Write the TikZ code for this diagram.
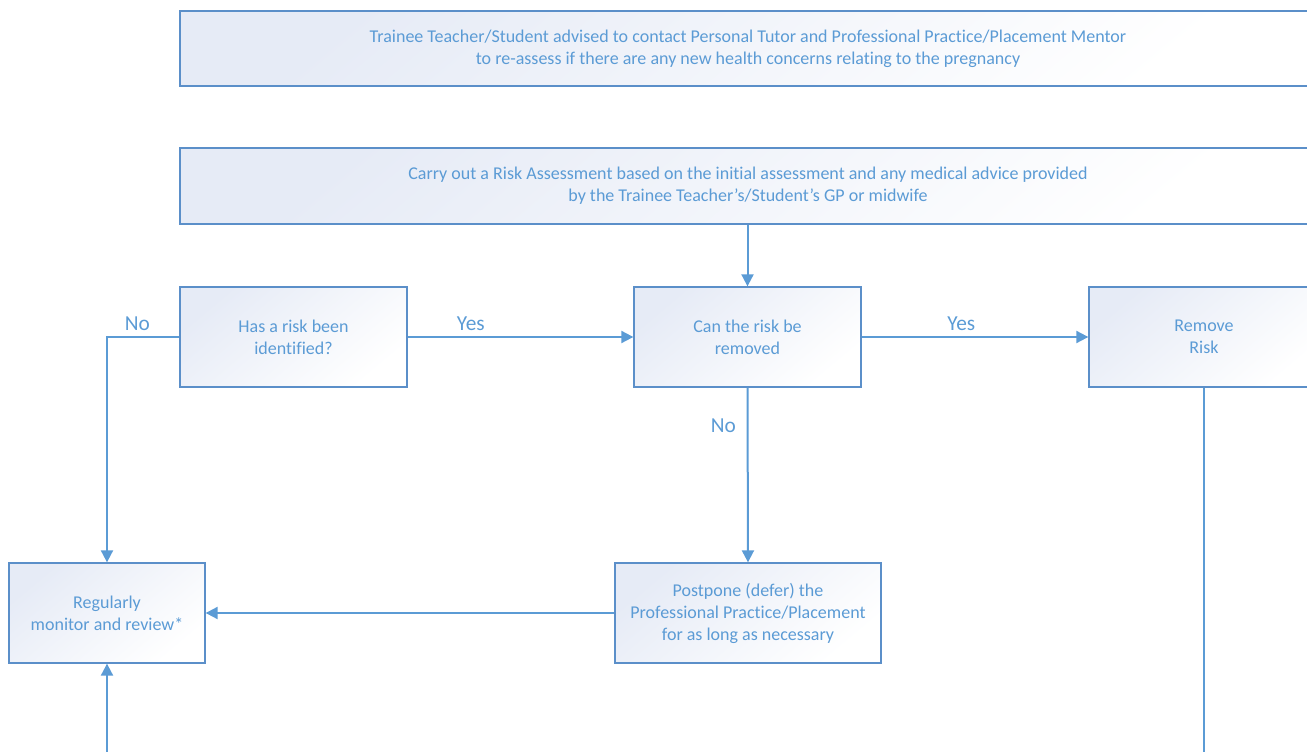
\documentclass[tikz,border=0pt]{standalone}
\usepackage{fontspec}
\setmainfont{Carlito}[Ligatures=CommonOff]
\usetikzlibrary{arrows.meta}
\definecolor{accent}{HTML}{5B9BD5}
\definecolor{boxline}{HTML}{5B8FC9}
\definecolor{shadeblue}{HTML}{E6EBF6}
\tikzset{
  flowbox/.style={draw=boxline, line width=1pt, top color=shadeblue, bottom color=white, shading angle=40,
    align=center, text=accent, inner sep=0pt,
    font=\fontsize{13.5}{16.5}\selectfont},
  conn/.style={draw=accent, line width=1.5pt, -{Triangle[length=9pt,width=9pt]}},
  plainconn/.style={draw=accent, line width=1.5pt},
  lbl/.style={text=accent, font=\fontsize{16}{19}\selectfont, inner sep=0pt}
}
\begin{document}
\begin{tikzpicture}[x=0.75pt,y=-0.75pt]
\useasboundingbox (0,0) rectangle (1307,752);
\clip (0,0) rectangle (1307,752);
\node[flowbox, minimum width=1136*0.75pt, minimum height=75*0.75pt] (top) at (748,48.5)
  {Trainee Teacher/Student advised to contact Personal Tutor and Professional Practice/Placement Mentor\\to re-assess if there are any new health concerns relating to the pregnancy};
\node[flowbox, minimum width=1136*0.75pt, minimum height=76*0.75pt] (ra) at (748,186)
  {Carry out a Risk Assessment based on the initial assessment and any medical advice provided\\by the Trainee Teacher's/Student's GP or midwife};
\node[flowbox, minimum width=227*0.75pt, minimum height=100*0.75pt] (has) at (293.5,337)
  {Has a risk been\\identified?};
\node[flowbox, minimum width=227*0.75pt, minimum height=100*0.75pt] (can) at (747.5,337)
  {Can the risk be\\removed};
\node[flowbox, minimum width=230*0.75pt, minimum height=100*0.75pt] (rem) at (1204,337)
  {Remove\\Risk};
\node[flowbox, minimum width=196*0.75pt, minimum height=100*0.75pt] (reg) at (107,613)
  {Regularly\\monitor and review*};
\node[flowbox, minimum width=266*0.75pt, minimum height=100*0.75pt] (post) at (748,613)
  {Postpone (defer) the\\Professional Practice/Placement\\for as long as necessary};
\coordinate (bl) at (107,760);
\coordinate (br) at (1204,760);
\draw[conn] (ra.south -| can.north) -- (can.north);
\draw[conn] (has.east) -- node[lbl, above=4pt, pos=0.28] {Yes} (can.west);
\draw[conn] (can.east) -- node[lbl, above=4pt, pos=0.44] {Yes} (rem.west);
\draw[conn] (has.west) -- node[lbl, above=4pt, pos=0.58] {No} (has.west -| reg.north) -- (reg.north);
\draw[conn] (can.south) -- node[lbl, left=8pt, pos=0.22] {No} (post.north);
\draw[conn] (post.west) -- (reg.east);
\draw[conn] (bl) -- (reg.south);
\draw[plainconn] (rem.south) -- (br);
\end{tikzpicture}
\end{document}
